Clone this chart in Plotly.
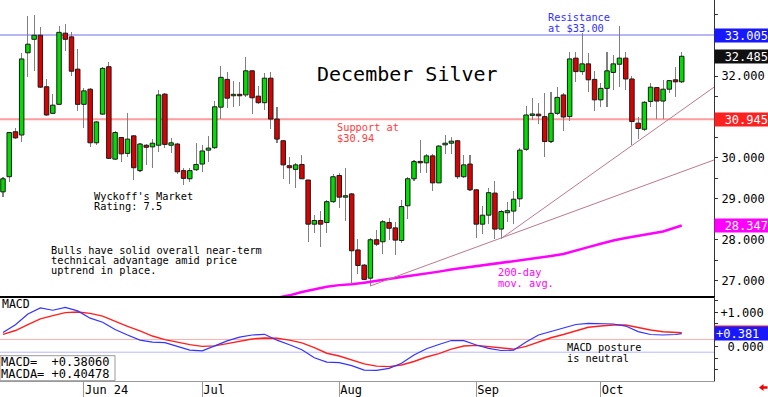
import pandas as pd
import plotly.graph_objects as go

# ---------------- data ----------------
holidays = ["2024-05-27", "2024-06-19", "2024-07-04", "2024-09-02"]
dates = [d.strftime("%Y-%m-%d") for d in pd.bdate_range("2024-05-14", "2024-10-18")
         if d.strftime("%Y-%m-%d") not in holidays]

opens = [29.17, 29.54, 30.64, 30.56, 32.57, 32.90, 33.00, 31.74, 31.09, 31.31,
         33.05, 32.96, 32.17, 31.31, 31.68, 30.37, 31.07, 32.23, 29.97, 30.50,
         30.11, 30.54, 29.69, 30.31, 30.27, 30.31, 31.56, 30.31, 30.34, 29.69,
         29.49, 29.71, 29.85, 30.19, 30.25, 31.24, 31.92, 31.52, 31.54, 31.54,
         32.13, 31.51, 31.35, 31.95, 30.95, 30.42, 29.81, 29.72, 29.84, 29.46,
         28.38, 28.47, 28.42, 28.93, 29.57, 29.04, 29.12, 27.75, 27.38, 27.06,
         28.00, 27.95, 28.42, 28.29, 27.98, 28.83, 29.49, 29.90, 29.88, 30.05,
         29.39, 30.32, 30.36, 30.42, 29.54, 29.85, 29.22, 28.38, 28.60, 29.14,
         28.26, 28.66, 28.70, 29.00, 30.21, 31.04, 31.07, 31.01, 30.40, 31.09,
         31.54, 31.01, 32.44, 32.11, 32.30, 31.92, 31.42, 31.70, 32.09, 32.29,
         32.44, 31.93, 30.85, 30.70, 31.38, 31.72, 31.39, 31.68, 31.91, 31.86]
highs = [29.53, 30.64, 30.74, 32.56, 33.47, 33.49, 33.19, 31.92, 31.56, 33.22,
         33.27, 33.09, 32.66, 31.70, 31.70, 30.91, 32.23, 32.35, 30.67, 30.52,
         31.09, 30.56, 30.37, 30.34, 30.46, 31.66, 31.58, 30.48, 30.36, 29.75,
         29.75, 30.37, 30.32, 30.54, 31.40, 32.25, 32.11, 31.88, 31.86, 32.46,
         32.15, 31.76, 32.07, 32.11, 31.24, 30.44, 30.02, 29.88, 30.07, 29.46,
         28.60, 28.71, 28.97, 29.61, 29.62, 29.75, 29.14, 28.01, 27.41, 28.04,
         28.24, 28.48, 28.52, 28.44, 28.97, 29.54, 29.95, 30.44, 30.10, 30.10,
         30.32, 30.56, 30.52, 30.44, 30.07, 30.07, 29.23, 28.83, 29.26, 29.44,
         28.73, 28.93, 29.20, 30.24, 31.27, 31.46, 31.34, 31.58, 31.62, 31.74,
         31.58, 32.60, 32.60, 33.05, 32.56, 32.13, 31.82, 32.60, 32.52, 33.23,
         32.60, 32.00, 30.99, 31.38, 31.84, 31.74, 31.91, 31.91, 32.22, 32.60]
lows = [29.04, 29.42, 30.46, 30.40, 31.97, 32.13, 31.72, 31.03, 31.07, 31.31,
        32.62, 32.00, 31.15, 30.72, 30.27, 30.32, 31.05, 29.97, 29.95, 29.91,
        30.03, 29.46, 29.66, 29.83, 29.75, 30.15, 30.24, 30.11, 29.60, 29.34,
        29.42, 29.69, 29.66, 29.91, 30.21, 30.95, 31.21, 31.24, 31.26, 31.50,
        31.07, 31.32, 31.17, 30.70, 30.37, 29.48, 29.36, 29.26, 29.48, 27.95,
        28.16, 27.83, 28.16, 28.89, 28.77, 28.47, 26.95, 27.16, 27.02, 26.87,
        27.85, 27.65, 28.00, 27.63, 27.93, 28.50, 29.44, 29.64, 29.64, 29.20,
        29.38, 30.10, 30.10, 29.49, 29.50, 29.20, 28.04, 28.13, 28.39, 28.01,
        28.01, 28.44, 28.39, 28.81, 30.18, 30.93, 30.83, 30.02, 30.37, 31.05,
        30.66, 30.91, 31.86, 32.03, 31.62, 31.15, 31.25, 31.25, 31.66, 31.73,
        31.66, 30.32, 30.46, 30.67, 31.24, 30.94, 30.94, 31.59, 31.48, 31.84]
closes = [29.49, 30.62, 30.49, 32.42, 32.78, 33.00, 31.73, 31.05, 31.29, 33.07,
          32.90, 32.12, 31.31, 31.64, 30.37, 30.88, 32.19, 29.99, 30.62, 30.10,
          30.46, 29.76, 30.34, 30.26, 30.36, 31.54, 30.33, 30.37, 29.66, 29.50,
          29.69, 29.84, 30.17, 30.24, 31.25, 31.97, 31.46, 31.54, 31.52, 32.13,
          31.47, 31.35, 31.95, 30.95, 30.46, 29.83, 29.76, 29.83, 29.49, 28.38,
          28.47, 28.38, 28.93, 29.54, 29.04, 29.06, 27.73, 27.37, 27.03, 28.00,
          27.89, 28.44, 28.28, 27.99, 28.81, 29.49, 29.91, 29.88, 30.05, 29.39,
          30.29, 30.36, 30.41, 29.54, 29.83, 29.22, 28.38, 28.60, 29.15, 28.26,
          28.69, 28.71, 28.99, 30.19, 31.05, 31.07, 31.03, 30.40, 31.09, 31.48,
          31.00, 32.42, 32.11, 32.30, 31.91, 31.42, 31.70, 32.13, 32.30, 32.44,
          31.93, 30.89, 30.72, 31.36, 31.73, 31.39, 31.68, 31.89, 31.86, 32.485]

# 200-day moving average, read every other session from Jul 17 on
ma_dates = dates[44:110:2] + [dates[109]]
ma_values = [26.58, 26.64, 26.72, 26.79, 26.85, 26.89, 26.91, 26.95, 27.00, 27.04,
             27.09, 27.13, 27.17, 27.22, 27.27, 27.31, 27.36, 27.40, 27.43, 27.47,
             27.51, 27.55, 27.60, 27.65, 27.74, 27.82, 27.90, 27.98, 28.04, 28.09,
             28.14, 28.20, 28.30, 28.347]

# MACD and its average (signal), read every other session
macd_dates = dates[0:110:2] + [dates[109]]
macd_values = [0.41, 0.64, 0.95, 1.13, 1.06, 1.14, 1.04, 0.83, 0.71, 0.50,
               0.34, 0.19, 0.135, 0.12, 0.01, -0.10, -0.12, 0.02, 0.17, 0.28,
               0.34, 0.36, 0.19, 0.055, -0.09, -0.32, -0.45, -0.465, -0.55, -0.68,
               -0.69, -0.63, -0.48, -0.24, -0.06, 0.065, 0.18, 0.175, 0.05, -0.05,
               -0.11, -0.10, 0.14, 0.34, 0.44, 0.53, 0.645, 0.68, 0.66, 0.66,
               0.60, 0.44, 0.355, 0.34, 0.355, 0.38060]
macda_values = [0.36, 0.47, 0.64, 0.81, 0.905, 0.99, 1.01, 0.97, 0.89, 0.73,
                0.59, 0.46, 0.31, 0.205, 0.13, 0.06, 0.01, 0.025, 0.09, 0.16,
                0.225, 0.255, 0.245, 0.19, 0.11, -0.025, -0.19, -0.27, -0.39, -0.50,
                -0.565, -0.58, -0.53, -0.43, -0.30, -0.20, -0.07, 0.02, 0.04, 0.01,
                -0.04, -0.07, 0.01, 0.145, 0.26, 0.355, 0.45, 0.565, 0.60, 0.63,
                0.63, 0.555, 0.485, 0.435, 0.41, 0.40478]

resistance = 33.005
support = 30.945
macd_upper_ref = 0.21
macd_lower_ref = -0.16

# trend lines: (start date index, start price, price at right edge)
trend_lines = [(59, 26.87, 29.95), (80, 28.03, 31.73)]

month_tick_dates = ["2024-06-03", "2024-07-01", "2024-08-01", "2024-09-03", "2024-10-01"]
month_tick_labels = ["Jun 24", "Jul", "Aug", "Sep", "Oct"]

price_tick_vals = [27.0, 27.5, 28.0, 28.5, 29.0, 29.5, 30.0, 30.5, 31.0, 31.5, 32.0, 32.5, 33.0, 33.5]
price_tick_text = ["27.000", "", "28.000", "", "29.000", "", "30.000", "", "", "", "32.000", "", "", ""]
macd_tick_vals = [-2 / 3, -1 / 3, 0.0, 1 / 3, 2 / 3, 1.0, 4 / 3]
macd_tick_text = ["", "", "\u00a00.000", "", "", "+1.000", ""]

# ---------------- layout helpers ----------------
W, H = 768, 397
MR, MB = 54, 16
PW, PH = W - MR, H - MB
X_RANGE = [-0.48, 114.18]
MONO = "DejaVu Sans Mono"


def px(x):
    return x / PW


def py(y):
    return (PH - y) / PH


fig = go.Figure()

# wicks
fig.add_trace(go.Bar(
    x=dates, y=[h - l for h, l in zip(highs, lows)], base=lows, width=0.17,
    marker=dict(color="#808080", line=dict(width=0)), hoverinfo="skip"))
# bodies
fig.add_trace(go.Bar(
    x=dates, y=[max(abs(c - o), 0.035) for o, c in zip(opens, closes)],
    base=[min(o, c) for o, c in zip(opens, closes)], width=0.72,
    marker=dict(color=["#00dd00" if c >= o else "#dd0000" for o, c in zip(opens, closes)],
                line=dict(color="#1a1a1a", width=1)), hoverinfo="skip"))
# 200-day MA
fig.add_trace(go.Scatter(x=ma_dates, y=ma_values, mode="lines",
                         line=dict(color="#ff00ff", width=2.5), hoverinfo="skip"))
# MACD panel
fig.add_trace(go.Scatter(x=macd_dates, y=macda_values, mode="lines", xaxis="x2", yaxis="y2",
                         line=dict(color="#ff2020", width=1.4), hoverinfo="skip"))
fig.add_trace(go.Scatter(x=macd_dates, y=macd_values, mode="lines", xaxis="x2", yaxis="y2",
                         line=dict(color="#3333ff", width=1.2), hoverinfo="skip"))

shapes = [
    dict(type="line", xref="paper", yref="y", x0=0, x1=1, y0=resistance, y1=resistance,
         line=dict(color="#6e6ef0", width=1), layer="below"),
    dict(type="line", xref="paper", yref="y", x0=0, x1=1, y0=support, y1=support,
         line=dict(color="#ff9d9d", width=2), layer="below"),
    dict(type="line", xref="paper", yref="y2", x0=0, x1=1, y0=macd_upper_ref, y1=macd_upper_ref,
         line=dict(color="#ffb0b0", width=1), layer="below"),
    dict(type="line", xref="paper", yref="y2", x0=0, x1=1, y0=macd_lower_ref, y1=macd_lower_ref,
         line=dict(color="#b8b8ff", width=1), layer="below"),
    # MACD value box
    dict(type="rect", xref="paper", yref="paper", x0=px(0), x1=px(115), y0=py(380.7), y1=py(355.7),
         line=dict(color="#999999", width=1), fillcolor="white"),
    # red arrow bottom right
    dict(type="path", xref="paper", yref="paper",
         path="M {a},{b} L {c},{d} L {c},{e} L {f},{e} L {f},{g} L {c},{g} L {c},{h} Z".format(
             a=px(759), b=py(387.5), c=px(763.5), d=py(384), e=py(386.3), f=px(767.5),
             g=py(388.7), h=py(391)),
         fillcolor="#ee0000", line=dict(width=0)),
]
for i0, p0, p1 in trend_lines:
    shapes.append(dict(type="line", xref="x", yref="y", x0=i0, x1=X_RANGE[1], y0=p0, y1=p1,
                       line=dict(color="#bb7a8c", width=1)))


def txt(x, y, s, color="black", size=10.3, anchor="left"):
    return dict(xref="paper", yref="paper", x=px(x), y=py(y), text=s, showarrow=False,
                xanchor=anchor, yanchor="middle", font=dict(family=MONO, size=size, color=color),
                borderpad=0)


annotations = [
    txt(407.5, 74, "December Silver", size=20, anchor="center"),
    txt(547, 17, "Resistance", color="#3030ff"),
    txt(547, 28, "at $33.00", color="#3030ff"),
    txt(336, 127.5, "Support at", color="#ff3b3b"),
    txt(336, 137.5, "$30.94", color="#ff3b3b"),
    txt(93, 196, "Wyckoff's Market"),
    txt(93, 206, "Rating: 7.5"),
    txt(50, 249.7, "Bulls have solid overall near-term"),
    txt(50, 259.7, "technical advantage amid price"),
    txt(50, 270, "uptrend in place."),
    txt(497, 272, "200-day", color="#ff00ff"),
    txt(497, 283, "mov. avg.", color="#ff00ff"),
    txt(566, 347.3, "MACD posture"),
    txt(566, 358, "is neutral"),
    txt(1, 303.5, "MACD", size=11.5),
    txt(0, 362, "MACD=  {:+.5f}".format(macd_values[-1]), size=12),
    txt(0, 374, "MACDA= {:+.5f}".format(macda_values[-1]), size=12),
]


def level_box(y, yref, s, bg, align="right"):
    return dict(xref="paper", yref=yref, x=1, y=y, xanchor="left", yanchor="middle", text=s,
                showarrow=False, bgcolor=bg, width=52, height=11, borderpad=1, align=align,
                font=dict(family=MONO, size=12, color="white"))


annotations += [
    level_box(resistance, "y", "{:.3f}".format(resistance), "#1818ff"),
    level_box(closes[-1], "y", "{:.3f}".format(closes[-1]), "#101010"),
    level_box(support, "y", "{:.3f}".format(support), "#ff2020"),
    level_box(ma_values[-1], "y", "{:.3f}".format(ma_values[-1]), "#ff00ff"),
    level_box(macda_values[-1], "y2", "{:+.3f}".format(macda_values[-1]), "#ff2020", align="left"),
    level_box(macd_values[-1], "y2", "{:+.3f}".format(macd_values[-1]), "#1818ff", align="left"),
]

axis_common = dict(showgrid=False, zeroline=False, fixedrange=True)
fig.update_layout(
    width=W, height=H, autosize=False,
    margin=dict(l=0, r=MR, t=0, b=MB, pad=0),
    paper_bgcolor="white", plot_bgcolor="white",
    showlegend=False, barmode="overlay", bargap=0,
    xaxis=dict(domain=[0, 1], anchor="y", type="category", categoryorder="array",
               categoryarray=dates, range=X_RANGE, showticklabels=False, ticks="",
               showline=True, linecolor="black", linewidth=1.5, **axis_common),
    yaxis=dict(domain=[py(296), 1], anchor="x", side="right", range=[26.624, 33.861],
               showline=True, linecolor="#333333", linewidth=1, ticks="outside", ticklen=3,
               tickcolor="#333333", tickvals=price_tick_vals, ticktext=price_tick_text,
               tickfont=dict(family=MONO, size=12, color="black"), ticklabelstandoff=1,
               **axis_common),
    xaxis2=dict(domain=[0, 1], anchor="y2", matches="x", type="category", categoryorder="array",
                categoryarray=dates, range=X_RANGE, showline=True, linecolor="#999999",
                linewidth=1, ticks="outside", ticklen=16, tickcolor="#999999", tickwidth=1,
                tickvals=month_tick_dates, ticktext=month_tick_labels,
                ticklabelposition="outside right", ticklabelstandoff=-2,
                tickfont=dict(family=MONO, size=12, color="black"), **axis_common),
    yaxis2=dict(domain=[0, py(297)], anchor="x2", side="right", range=[-0.997, 1.445],
                showline=True, linecolor="#333333", linewidth=1, ticks="outside", ticklen=3,
                tickcolor="#333333", tickvals=macd_tick_vals, ticktext=macd_tick_text,
                tickfont=dict(family=MONO, size=12, color="black"), ticklabelstandoff=0,
                **axis_common),
    shapes=shapes,
    annotations=annotations,
)

fig.write_html("out.html", config={"displayModeBar": False, "staticPlot": True},
               post_script="document.body.style.margin='0px';document.body.style.overflow='hidden';")
